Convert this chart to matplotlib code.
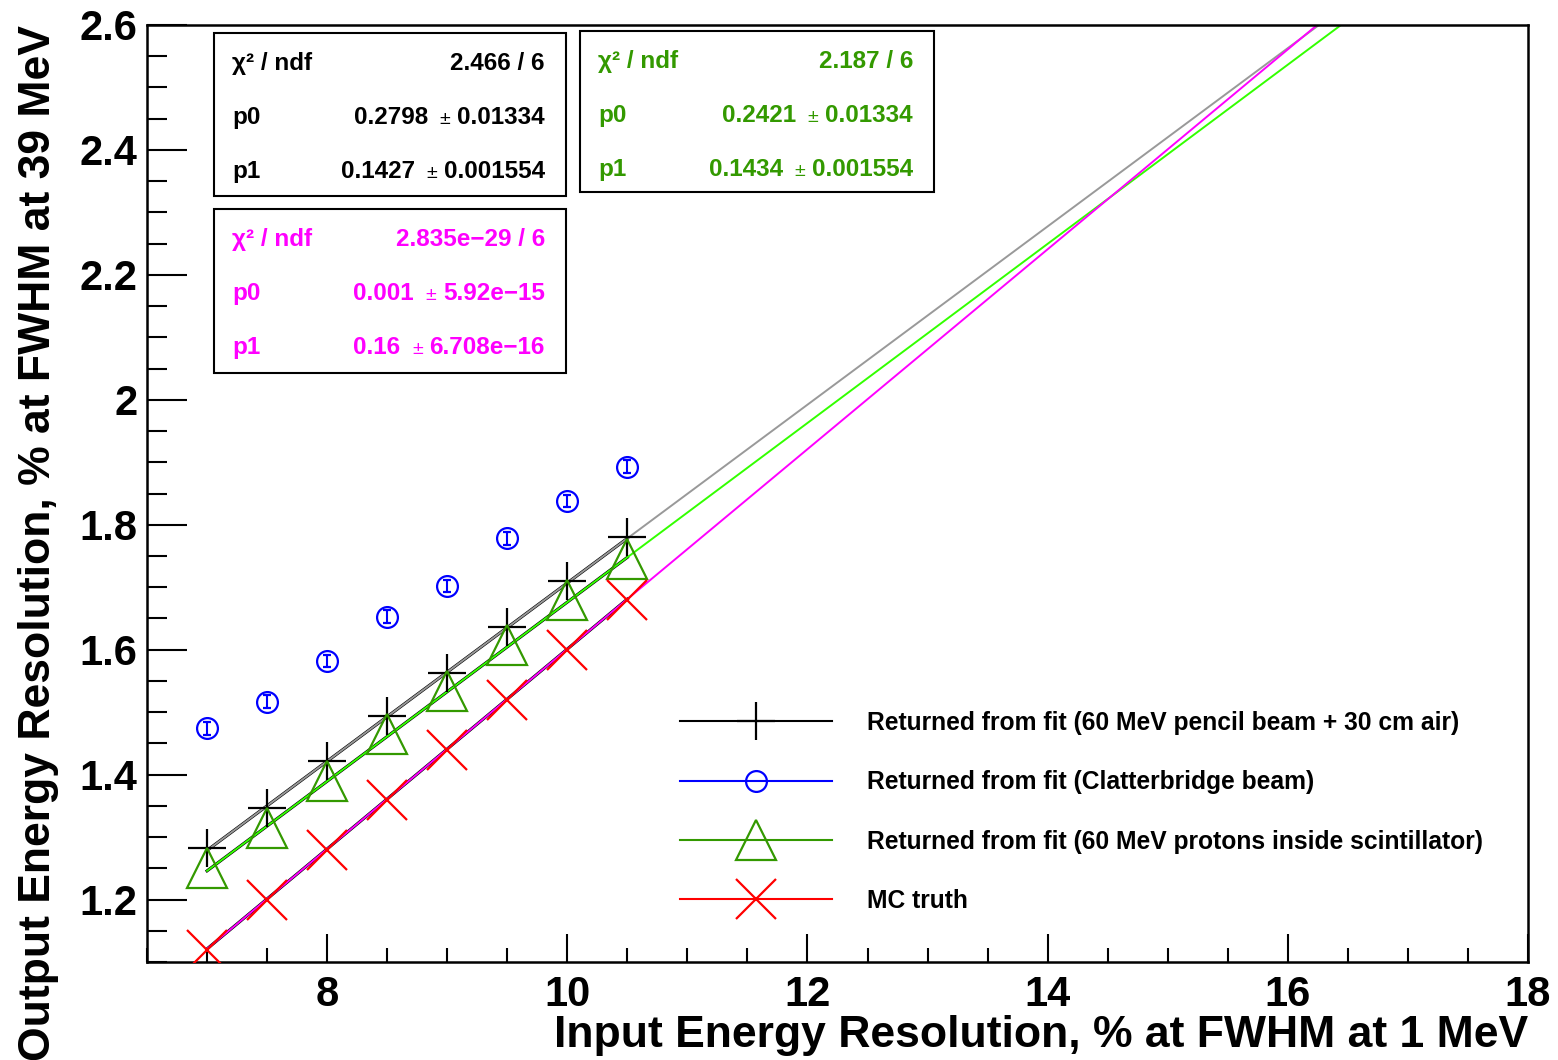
import numpy as np
import matplotlib.pyplot as plt
from matplotlib.lines import Line2D
from matplotlib.patches import Rectangle
from matplotlib.ticker import MultipleLocator, FormatStrFormatter

plt.rcParams['font.family'] = ['Liberation Sans', 'DejaVu Sans']
plt.rcParams['font.weight'] = 'bold'

# input resolution scan (% FWHM at 1 MeV)
x_in = [7.0, 7.5, 8.0, 8.5, 9.0, 9.5, 10.0, 10.5]

# reconstructed output resolution (% FWHM at 39 MeV)
y_pencil = [1.283, 1.347, 1.421, 1.494, 1.562, 1.637, 1.710, 1.780]
y_clatter = [1.474, 1.517, 1.582, 1.653, 1.702, 1.778, 1.838, 1.893]
y_clatter_err = [0.01, 0.01, 0.01, 0.01, 0.01, 0.01, 0.01, 0.01]
y_scint = [1.251, 1.315, 1.390, 1.465, 1.534, 1.608, 1.680, 1.745]
y_truth = [1.12, 1.20, 1.28, 1.36, 1.44, 1.52, 1.60, 1.68]

# pol1 fit results: p0 + p1*x
pencil_p = [0.2798, 0.1427]
pencil_err = ['0.01334', '0.001554']
pencil_chi2 = '2.466 / 6'

scint_p = [0.2421, 0.1434]
scint_err = ['0.01334', '0.001554']
scint_chi2 = '2.187 / 6'

truth_p = [0.001, 0.16]
truth_err = ['5.92e\u221215', '6.708e\u221216']
truth_chi2 = '2.835e\u221229 / 6'

labels = [
    'Returned from fit (60 MeV pencil beam + 30 cm air)',
    'Returned from fit (Clatterbridge beam)',
    'Returned from fit (60 MeV protons inside scintillator)',
    'MC truth',
]

GREEN = '#339900'
LIME = '#33ff00'
MAGENTA = '#ff00ff'
GRAY = '#999999'

W, H = 1558, 1060
fig = plt.figure(figsize=(W / 100, H / 100), dpi=100)
ax = fig.add_axes([147 / W, (H - 962) / H, (1528 - 147) / W, (962 - 25) / H])

# fit lines: black over the fitted range, coloured extrapolation beyond
x_seg = np.linspace(x_in[0], x_in[-1], 50)
x_ext = np.linspace(x_in[0], 18, 300)
for p, col in [(pencil_p, GRAY), (scint_p, LIME), (truth_p, MAGENTA)]:
    ax.plot(x_seg, p[0] + p[1] * x_seg, color='black', lw=2.2, zorder=2)
    ax.plot(x_ext, p[0] + p[1] * x_ext, color=col, lw=1.4, zorder=2.5)

ax.plot(x_in, y_pencil, ls='none', marker='+', ms=27, mew=1.6, color='black', zorder=3)
ax.errorbar(x_in, y_clatter, yerr=y_clatter_err, fmt='o', ms=15, mfc='none', mew=1.6,
            color='blue', ecolor='blue', elinewidth=1.5, capsize=3, capthick=1.5, zorder=3)
ax.plot(x_in, y_scint, ls='none', marker='^', ms=29, mfc='none', mew=1.6, color=GREEN, zorder=3)
ax.plot(x_in, y_truth, ls='none', marker='x', ms=29, mew=1.6, color='red', zorder=3)

ax.set_xlim(6.5, 18)
ax.set_ylim(1.1, 2.6)
ax.xaxis.set_major_locator(MultipleLocator(2))
ax.xaxis.set_minor_locator(MultipleLocator(0.5))
ax.yaxis.set_major_locator(MultipleLocator(0.2))
ax.yaxis.set_minor_locator(MultipleLocator(0.05))
ax.xaxis.set_major_formatter(FormatStrFormatter('%g'))
ax.yaxis.set_major_formatter(FormatStrFormatter('%g'))
ax.tick_params(which='both', direction='in', top=False, right=False, width=1.5, labelsize=30)
ax.tick_params(axis='x', which='major', length=20, pad=9)
ax.tick_params(axis='x', which='minor', length=10)
ax.tick_params(axis='y', which='major', length=29, pad=7)
ax.tick_params(axis='y', which='minor', length=14.5)
for lbl in ax.get_xticklabels() + ax.get_yticklabels():
    lbl.set_fontweight('bold')
for sp in ax.spines.values():
    sp.set_linewidth(1.8)

ax.set_xlabel('Input Energy Resolution, % at FWHM at 1 MeV', fontsize=32, fontweight='bold', loc='right')
ax.set_ylabel('Output Energy Resolution, % at FWHM at 39 MeV', fontsize=32, fontweight='bold', loc='top')
ax.xaxis.set_label_coords(1.0, -0.0566)
ax.yaxis.set_label_coords(-0.0638, 1.0)

handles = [
    Line2D([], [], color='black', lw=1.5, marker='+', ms=27, mew=1.6),
    Line2D([], [], color='blue', lw=1.5, marker='o', ms=15, mfc='none', mew=1.6),
    Line2D([], [], color=GREEN, lw=1.5, marker='^', ms=29, mfc='none', mew=1.6),
    Line2D([], [], color='red', lw=1.5, marker='x', ms=29, mew=1.6),
]
ax.legend(handles, labels, loc='center left', bbox_to_anchor=(680 / W, 1 - 812 / H),
          bbox_transform=fig.transFigure, frameon=False, borderpad=0,
          borderaxespad=0, handlelength=6.2, handletextpad=1.4, labelspacing=1.44,
          prop={'weight': 'bold', 'size': 17.7})


def stat_box(left, top, right, bottom, chi2, p, perr, color):
    ftr = fig.transFigure
    ax.add_patch(Rectangle((left / W, 1 - bottom / H), (right - left) / W, (bottom - top) / H,
                           transform=ftr, facecolor='white', edgecolor='black',
                           lw=1.5, zorder=5, clip_on=False))
    xl = (left + 18) / W
    xr = (right - 21) / W
    rows = [('\u03c7\u00b2 / ndf', chi2, None),
            ('p0', f'{p[0]:.4g}', perr[0]),
            ('p1', f'{p[1]:.4g}', perr[1])]
    for i, (name, val, err) in enumerate(rows):
        yb = 1 - (top + 37 + 54 * i) / H
        kw = dict(color=color, fontsize=17.5, fontweight='bold', zorder=6)
        ax.text(xl, yb, name, va='baseline', transform=ftr, **kw)
        if err is None:
            ax.text(xr, yb, val, ha='right', va='baseline', transform=ftr, **kw)
            continue
        t_err = ax.text(xr, yb, err, ha='right', va='baseline', transform=ftr, **kw)
        ax.annotate('\u00b1', xy=(0, 0), xycoords=t_err, xytext=(-5, 1),
                    textcoords='offset points', ha='right', va='bottom', fontsize=14,
                    fontweight='normal', color=color, annotation_clip=False, zorder=6)
        ax.annotate(val, xy=(0, 0), xycoords=t_err, xytext=(-21, 0),
                    textcoords='offset points', ha='right', va='bottom',
                    annotation_clip=False, **kw)


stat_box(214, 33, 566, 196, pencil_chi2, pencil_p, pencil_err, 'black')
stat_box(580, 31, 934, 192, scint_chi2, scint_p, scint_err, GREEN)
stat_box(214, 209, 566, 373, truth_chi2, truth_p, truth_err, MAGENTA)

fig.savefig('out.png', dpi=100)
